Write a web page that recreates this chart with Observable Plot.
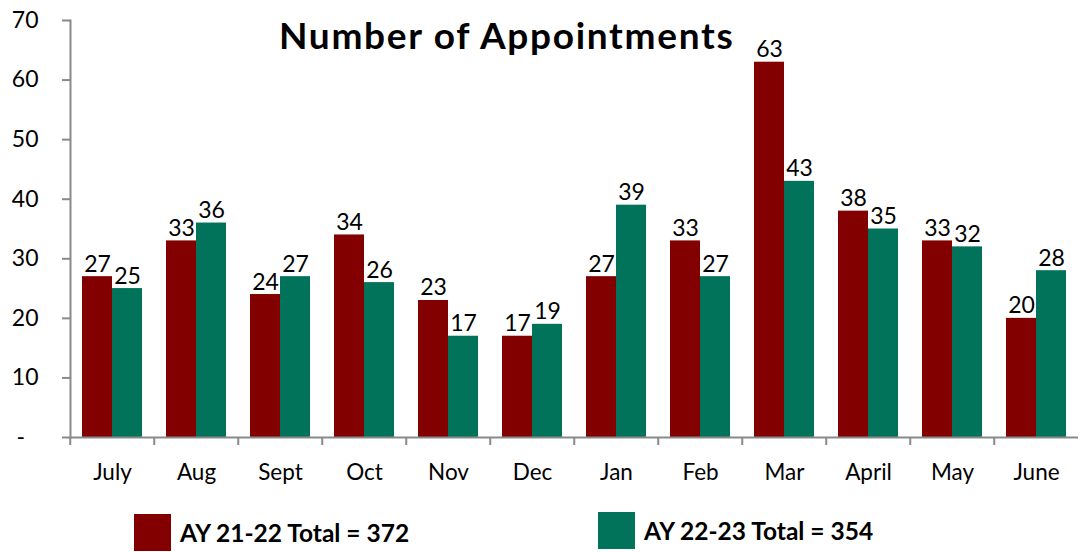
<!DOCTYPE html>
<html><head><meta charset="utf-8">
<script src="https://cdn.jsdelivr.net/npm/d3@7"></script>
<script src="https://cdn.jsdelivr.net/npm/@observablehq/plot@0.6"></script>
<style>
body{margin:0;background:#fff;font-family:Lato,sans-serif;color:#000}
#wrap{position:relative;width:1082px;height:552px;overflow:hidden}
#chart{position:absolute;left:0;top:0}
#title{position:absolute;left:279px;top:16px;font-weight:bold;font-size:37px;letter-spacing:1.7px;white-space:nowrap;line-height:1}
.leg{position:absolute;display:flex;align-items:center;font-weight:bold;font-size:24.5px;white-space:nowrap}
.sw{width:37px;height:37px;margin-right:9px;flex:none}
</style></head>
<body><div id="wrap"><div id="chart"></div><div id="title"></div><div id="legend"></div></div>
<script>
const title = "Number of Appointments";
const months = ["July","Aug","Sept","Oct","Nov","Dec","Jan","Feb","Mar","April","May","June"];
const series = ["AY 21-22","AY 22-23"];
const ay2122 = [27,33,24,34,23,17,27,33,63,38,33,20];
const ay2223 = [25,36,27,26,17,19,39,27,43,35,32,28];
const colors = ["#820000","#00735A"];
const yTicks = [0,10,20,30,40,50,60,70];

const values = [ay2122, ay2223];
const data = months.flatMap((m, i) => series.map((s, j) => ({month: m, series: s, value: values[j][i]})));
const totals = values.map(v => d3.sum(v));

const axisGray = "#898989";
const W = 1082, H = 500, ML = 67, MR = 1;
const band = (W - ML - MR) / months.length;

const chart = Plot.plot({
  width: W, height: H,
  marginLeft: ML, marginRight: MR, marginTop: 20, marginBottom: 63,
  style: {fontFamily: "Lato, sans-serif", fontSize: "22px", color: "#000", background: "#fff"},
  fx: {domain: months, padding: 0, label: null},
  x: {domain: series, axis: null, paddingInner: 0, paddingOuter: 0.37},
  y: {domain: [0, 70], axis: null},
  color: {domain: series, range: colors},
  marks: [
    Plot.barY(data, {fx: "month", x: "series", y: "value", fill: "series"}),
    Plot.text(data, {fx: "month", x: "series", y: "value", text: "value", lineAnchor: "bottom", dy: -5, fill: "#000", fontSize: 23}),
    Plot.ruleY([0], {stroke: axisGray, strokeWidth: 2}),
    Plot.frame({anchor: "left", stroke: axisGray, strokeWidth: 2, facetAnchor: "left"}),
    Plot.axisY({ticks: yTicks, tickSize: 8, tickPadding: 24, label: null, tickFormat: d => d === 0 ? "-\u2007" : d, stroke: axisGray, strokeWidth: 2, fill: "#000", fontSize: 23}),
    Plot.axisFx({anchor: "bottom", tickSize: 8, tickFormat: () => "", label: null, dx: -band / 2, stroke: axisGray, strokeWidth: 2}),
    Plot.axisFx({anchor: "bottom", tickSize: 0, tickPadding: 27, fill: "#000", fontSize: 22.5, label: null})
  ]
});
document.getElementById("chart").append(chart);
document.getElementById("title").textContent = title;

const legend = document.getElementById("legend");
const legPos = [{left: 134, top: 514}, {left: 598, top: 512}];
series.forEach((s, j) => {
  const el = document.createElement("div");
  el.className = "leg";
  el.style.left = legPos[j].left + "px";
  el.style.top = legPos[j].top + "px";
  const sw = document.createElement("span");
  sw.className = "sw";
  sw.style.background = colors[j];
  const t = document.createElement("span");
  t.textContent = `${s} Total = ${totals[j]}`;
  el.append(sw, t);
  legend.append(el);
});
</script>
</body></html>
